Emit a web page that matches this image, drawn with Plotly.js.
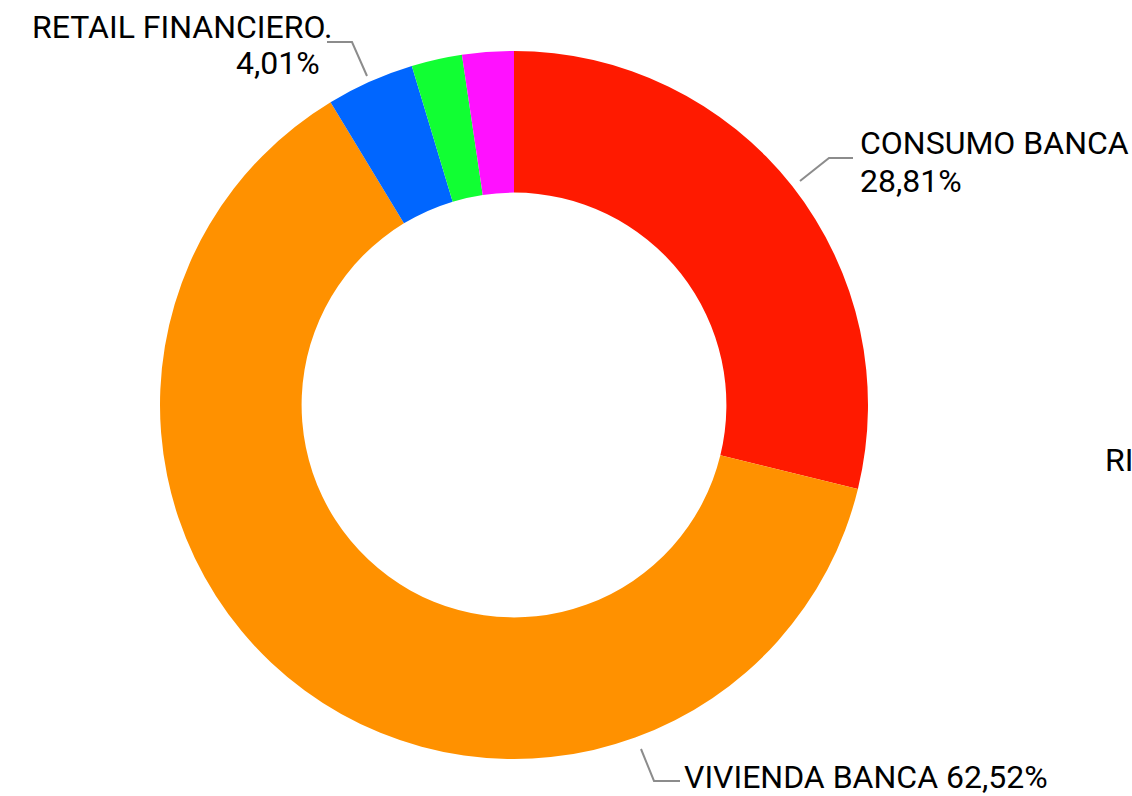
<!DOCTYPE html>
<html>
<head>
<meta charset="utf-8">
<script src="https://cdn.plot.ly/plotly-3.0.1.min.js"></script>
<style>html,body{margin:0;padding:0;background:#fff;}#chart{width:1132px;height:796px;}</style>
</head>
<body>
<div id="chart"></div>
<script>
// Data
const categories = ["CONSUMO BANCA", "VIVIENDA BANCA", "RETAIL FINANCIERO.", "OTROS 1", "OTROS 2"];
const values = [28.81, 62.52, 4.01, 2.31, 2.35];
const colors = ["#FF1A00", "#FF9100", "#0066FF", "#11FF33", "#FF11FF"];
const labelNames = ["CONSUMO BANCA", "VIVIENDA BANCA", "RETAIL FINANCIERO."];
const labelPcts = ["28,81%", "62,52%", "4,01%"];

const W = 1132, H = 796;
const px = x => x / W;
const py = y => 1 - y / H;
const FONT = "Roboto, 'DejaVu Sans', sans-serif";

const trace = {
  type: "pie",
  values: values,
  labels: categories,
  marker: {colors: colors, line: {width: 0}},
  hole: 0.6,
  sort: false,
  direction: "clockwise",
  rotation: 0,
  textinfo: "none",
  hoverinfo: "label+percent",
  domain: {x: [px(160), px(868)], y: [py(759), py(51)]},
  showlegend: false
};

const lineStyle = {color: "#8c8c8c", width: 2};
const shapes = [
  {type: "path", xref: "paper", yref: "paper",
   path: `M ${px(800)} ${py(181)} L ${px(829)} ${py(158)} L ${px(853)} ${py(158)}`, line: lineStyle},
  {type: "path", xref: "paper", yref: "paper",
   path: `M ${px(641)} ${py(749)} L ${px(654)} ${py(781)} L ${px(680)} ${py(781)}`, line: lineStyle},
  {type: "path", xref: "paper", yref: "paper",
   path: `M ${px(367)} ${py(76)} L ${px(352)} ${py(42)} L ${px(327)} ${py(42)}`, line: lineStyle}
];

const ann = (text, x, y, xanchor) => ({
  text: text, xref: "paper", yref: "paper", x: px(x), y: py(y),
  xanchor: xanchor, yanchor: "middle", align: xanchor, showarrow: false,
  borderpad: 0,
  font: {family: FONT, size: 32, color: "#000"}
});

const annotations = [
  ann(labelNames[0], 859, 143, "left"),
  ann(labelPcts[0], 859, 181, "left"),
  ann(labelNames[1] + " " + labelPcts[1], 683, 777, "left"),
  ann(labelNames[2], 333, 27, "right"),
  ann(labelPcts[2], 321, 63, "right"),
  ann("RI", 1104, 460, "left")
];

const layout = {
  width: W, height: H,
  margin: {l: 0, r: 0, t: 0, b: 0},
  paper_bgcolor: "#fff",
  plot_bgcolor: "#fff",
  shapes: shapes,
  annotations: annotations,
  showlegend: false
};

Plotly.newPlot("chart", [trace], layout, {displayModeBar: false, staticPlot: true});
</script>
</body>
</html>
